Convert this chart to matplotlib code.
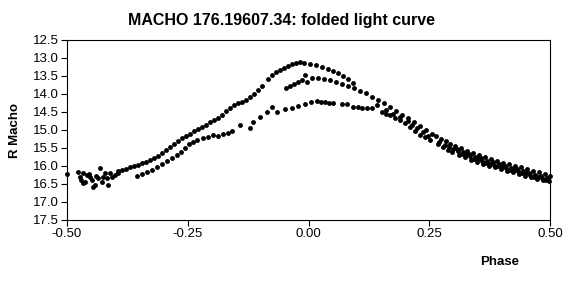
import matplotlib
matplotlib.use("Agg")
import matplotlib.pyplot as plt
from matplotlib.ticker import FormatStrFormatter

plt.rcParams['font.family'] = ['Liberation Sans', 'DejaVu Sans']

# Left cluster near phase -0.5
cluster_phase = [-0.500, -0.477, -0.473, -0.467, -0.459, -0.452, -0.467, -0.463, -0.446, -0.442,
                 -0.436, -0.432, -0.428, -0.421, -0.417, -0.415, -0.411, -0.407, -0.401, -0.395,
                 -0.455, -0.440, -0.425, -0.470, -0.448]
cluster_mag = [16.23, 16.17, 16.31, 16.19, 16.25, 16.31, 16.47, 16.45, 16.58, 16.53,
               16.33, 16.06, 16.44, 16.19, 16.33, 16.53, 16.19, 16.31, 16.25, 16.19,
               16.22, 16.28, 16.30, 16.40, 16.38]

# Upper branch (rising to the bright peak)
upper_phase = [-0.394, -0.386, -0.378, -0.370, -0.361, -0.353, -0.345, -0.336, -0.328, -0.320,
               -0.311, -0.303, -0.295, -0.287, -0.278, -0.270, -0.262, -0.254, -0.245, -0.237,
               -0.229, -0.220, -0.212, -0.204, -0.196, -0.187, -0.179, -0.171, -0.163, -0.154,
               -0.146, -0.138, -0.129, -0.121, -0.113, -0.105, -0.096, -0.084, -0.076, -0.067,
               -0.059, -0.051, -0.042, -0.034, -0.026, -0.018, -0.009, 0.003, 0.016, 0.028,
               0.040, 0.051, 0.061, 0.071, 0.082, 0.092]
upper_mag = [16.14, 16.11, 16.08, 16.03, 16.00, 15.97, 15.92, 15.89, 15.83, 15.78,
             15.72, 15.64, 15.56, 15.47, 15.39, 15.31, 15.22, 15.17, 15.11, 15.03,
             14.97, 14.92, 14.86, 14.78, 14.72, 14.67, 14.58, 14.47, 14.39, 14.31,
             14.25, 14.22, 14.17, 14.08, 14.00, 13.89, 13.78, 13.58, 13.47, 13.39,
             13.33, 13.28, 13.22, 13.17, 13.14, 13.11, 13.14, 13.17, 13.19, 13.25,
             13.31, 13.36, 13.42, 13.50, 13.58, 13.69]

# Middle branch (secondary maximum near 13.6)
middle_phase = [-0.046, -0.038, -0.030, -0.022, -0.013, -0.007, -0.003, 0.007, 0.020, 0.032,
                0.045, 0.057, 0.069, 0.082, 0.094, 0.107, 0.119, 0.131, 0.144, 0.156,
                0.169, 0.181, 0.194, 0.206, 0.218, 0.231, 0.243, 0.256]
middle_mag = [13.83, 13.78, 13.72, 13.67, 13.61, 13.47, 13.67, 13.56, 13.56, 13.58,
              13.61, 13.67, 13.72, 13.78, 13.83, 13.92, 13.97, 14.08, 14.17, 14.25,
              14.36, 14.47, 14.58, 14.67, 14.78, 14.89, 15.00, 15.11]

# Lower branch (faint maximum near 14.2)
lower_phase = [-0.355, -0.345, -0.334, -0.324, -0.314, -0.303, -0.293, -0.283, -0.272, -0.264,
               -0.256, -0.247, -0.239, -0.231, -0.218, -0.208, -0.198, -0.187, -0.177, -0.166,
               -0.158, -0.142, -0.121, -0.115, -0.100, -0.086, -0.076, -0.065, -0.049, -0.034,
               -0.022, -0.007, 0.005, 0.018, 0.026, 0.034, 0.042, 0.051, 0.069, 0.080,
               0.092, 0.102, 0.111, 0.121, 0.131, 0.142, 0.152, 0.160, 0.169, 0.179,
               0.189, 0.200, 0.210, 0.220, 0.231, 0.241, 0.252]
lower_mag = [16.28, 16.22, 16.17, 16.11, 16.03, 15.94, 15.86, 15.78, 15.69, 15.61,
             15.50, 15.39, 15.33, 15.28, 15.22, 15.19, 15.14, 15.17, 15.11, 15.08,
             15.03, 14.86, 14.94, 14.78, 14.64, 14.50, 14.36, 14.50, 14.42, 14.39,
             14.33, 14.28, 14.22, 14.19, 14.22, 14.22, 14.25, 14.25, 14.28, 14.28,
             14.36, 14.36, 14.39, 14.39, 14.39, 14.31, 14.50, 14.56, 14.58, 14.67,
             14.72, 14.81, 14.92, 15.03, 15.14, 15.19, 15.28]

# Extra points filling the band between the branches on the decline
fill_phase = [0.160, 0.175, 0.190, 0.205, 0.215, 0.225, 0.237, 0.248]
fill_mag = [14.45, 14.55, 14.63, 14.75, 14.85, 14.95, 15.05, 15.17]

# Declining tail (merged branches)
tail_phase = [0.264, 0.268, 0.274, 0.278, 0.285, 0.289, 0.293, 0.297, 0.303, 0.307,
              0.312, 0.316, 0.320, 0.324, 0.328, 0.332, 0.336, 0.341, 0.345, 0.349,
              0.353, 0.357, 0.361, 0.365, 0.370, 0.374, 0.378, 0.382, 0.386, 0.390,
              0.394, 0.399, 0.403, 0.407, 0.411, 0.415, 0.419, 0.423, 0.428, 0.432,
              0.436, 0.440, 0.444, 0.448, 0.452, 0.457, 0.461, 0.465, 0.469, 0.473,
              0.477, 0.481, 0.486, 0.490, 0.494, 0.498, 0.500,
              0.271, 0.282, 0.291, 0.300, 0.310, 0.318, 0.326, 0.334, 0.343, 0.351,
              0.359, 0.368, 0.376, 0.384, 0.392, 0.401, 0.409, 0.417, 0.426, 0.434,
              0.442, 0.450, 0.459, 0.467, 0.475, 0.484, 0.492]
tail_mag = [15.17, 15.39, 15.25, 15.47, 15.31, 15.56, 15.39, 15.61, 15.44, 15.53,
            15.69, 15.50, 15.61, 15.75, 15.58, 15.67, 15.83, 15.64, 15.75, 15.89,
            15.69, 15.78, 15.94, 15.75, 15.86, 16.00, 15.81, 15.89, 16.03, 15.86,
            15.94, 16.08, 15.92, 16.00, 16.14, 15.94, 16.06, 16.17, 16.00, 16.08,
            16.22, 16.03, 16.14, 16.28, 16.08, 16.19, 16.31, 16.14, 16.25, 16.36,
            16.17, 16.28, 16.39, 16.22, 16.33, 16.42, 16.28,
            15.33, 15.42, 15.47, 15.52, 15.58, 15.66, 15.70, 15.72, 15.80, 15.80,
            15.86, 15.92, 15.95, 15.97, 16.00, 16.03, 16.06, 16.11, 16.10, 16.14,
            16.19, 16.20, 16.25, 16.30, 16.31, 16.33, 16.38]

x_ticks = [-0.50, -0.25, 0.00, 0.25, 0.50]
y_ticks = [12.5, 13.0, 13.5, 14.0, 14.5, 15.0, 15.5, 16.0, 16.5, 17.0, 17.5]

fig = plt.figure(figsize=(5.79, 2.94), dpi=100)
ax = fig.add_axes([67 / 579, 1 - 220 / 294, (550 - 67) / 579, (220 - 40) / 294])

for px, py in [(cluster_phase, cluster_mag), (upper_phase, upper_mag),
               (middle_phase, middle_mag), (lower_phase, lower_mag),
               (fill_phase, fill_mag), (tail_phase, tail_mag)]:
    ax.plot(px, py, 'o', color='black', markersize=3.5, markeredgewidth=0,
            clip_on=False, linestyle='none')

ax.set_xlim(-0.5, 0.5)
ax.set_ylim(17.5, 12.5)
ax.set_xticks(x_ticks)
ax.set_yticks(y_ticks)
ax.xaxis.set_major_formatter(FormatStrFormatter('%.2f'))
ax.yaxis.set_major_formatter(FormatStrFormatter('%.1f'))
ax.tick_params(axis='both', direction='out', length=4, width=0.8, labelsize=9.5,
               colors='black', pad=2)
for s in ax.spines.values():
    s.set_linewidth(0.8)
    s.set_color('black')

fig.text(282 / 579, 1 - 20 / 294, 'MACHO 176.19607.34: folded light curve',
         ha='center', va='center', fontsize=11.5, fontweight='bold')
fig.text(15 / 579, 1 - 130 / 294, 'R Macho', ha='center', va='center',
         rotation=90, fontsize=9.5, fontweight='bold')
fig.text(500 / 579, 1 - 262 / 294, 'Phase', ha='center', va='center',
         fontsize=9.5, fontweight='bold')

fig.savefig('out.png', dpi=100, facecolor='white')
